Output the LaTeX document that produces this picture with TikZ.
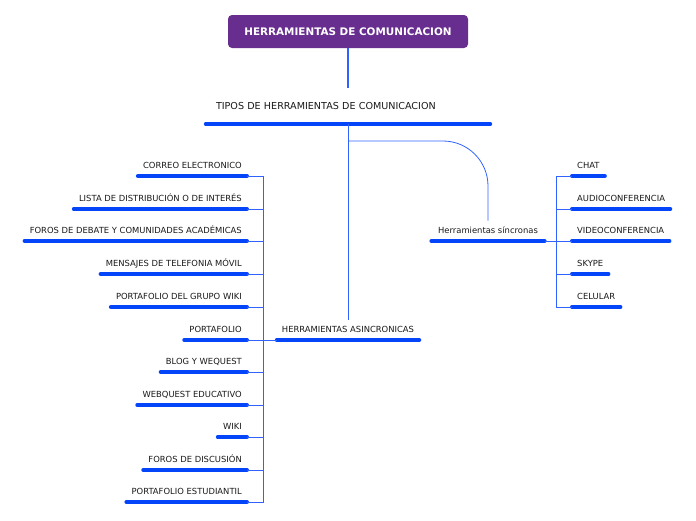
\documentclass[tikz,border=0pt]{standalone}
\usepackage{fontspec}
\setmainfont{DejaVu Sans}
\usepackage{tikz}
\usetikzlibrary{calc,positioning}
\definecolor{MMpurple}{HTML}{672D8F}
\definecolor{MMbar}{HTML}{0545FA}
\definecolor{MMline}{HTML}{2F62FF}

\begin{document}
\begin{tikzpicture}[x=1pt,y=-1pt,
  every node/.style={font=\fontsize{8.4}{10}\selectfont, text=black!90},
  bar/.style={draw=MMbar, line width=4pt, line cap=round},
  topic/.style={inner xsep=5pt, inner ysep=7pt, text height=6pt, text depth=0pt,
    append after command={(\tikzlastnode.south west) edge[bar] (\tikzlastnode.south east)}},
  link/.style={draw=MMline, line width=0.8pt}]
  \useasboundingbox (0,0) rectangle (696,520);

  % root and first level
  \node[fill=MMpurple, rounded corners=4pt, minimum width=240pt, minimum height=33pt,
    text=white, font=\fontsize{10.4}{12}\bfseries] (root) at (348,31.5) {HERRAMIENTAS DE COMUNICACION};
  \node[topic, anchor=south, inner xsep=10pt, inner ysep=14pt, text height=8pt,
    text width=264pt, align=left, font=\fontsize{9.6}{12}\selectfont] (tipos) at (348,124)
    {TIPOS DE HERRAMIENTAS DE COMUNICACION};
  \node[topic, anchor=south] (asinc) at (348,340) {HERRAMIENTAS ASINCRONICAS};
  \node[topic, anchor=south, inner xsep=6.5pt] (sinc) at (488,241) {Herramientas síncronas};

  % asynchronous tools
  \foreach \n/\y/\t in {correo/176/CORREO ELECTRONICO,
      lista/209/LISTA DE DISTRIBUCIÓN O DE INTERÉS,
      debate/241/FOROS DE DEBATE Y COMUNIDADES ACADÉMICAS,
      mensajes/274/MENSAJES DE TELEFONIA MÓVIL,
      grupo/307/PORTAFOLIO DEL GRUPO WIKI,
      portafolio/340/PORTAFOLIO,
      blog/372/BLOG Y WEQUEST,
      webquest/405/WEBQUEST EDUCATIVO,
      wiki/437/WIKI,
      discusion/470/FOROS DE DISCUSIÓN,
      estudiantil/502/PORTAFOLIO ESTUDIANTIL}
    \node[topic, anchor=south east] (\n) at (247,\y) {\t};

  % synchronous tools
  \foreach \n/\y/\t in {chat/176/CHAT,
      audio/209/AUDIOCONFERENCIA,
      video/241/VIDEOCONFERENCIA,
      skype/274/SKYPE,
      celular/307/CELULAR}
    \node[topic, anchor=south west] (\n) at (572,\y) {\t};

  % connectors
  \coordinate (ltrunk) at (263,340);
  \coordinate (rtrunk) at (556,241);
  \coordinate (fork) at ($(tipos.south)+(0,17)$);
  \draw[link, line width=1.2pt] (root.south) -- (tipos.north);
  \draw[link] (tipos.south) -- (asinc.north);
  \draw[link, rounded corners=45pt] (fork) -| (sinc.north);
  \draw[link] (asinc.south west) -- (ltrunk);
  \foreach \n in {correo,lista,debate,mensajes,grupo,portafolio,blog,webquest,wiki,discusion,estudiantil}
    \draw[link] (ltrunk) |- (\n.south east);
  \draw[link] (sinc.south east) -- (rtrunk);
  \foreach \n in {chat,audio,video,skype,celular}
    \draw[link] (rtrunk) |- (\n.south west);
\end{tikzpicture}
\end{document}
